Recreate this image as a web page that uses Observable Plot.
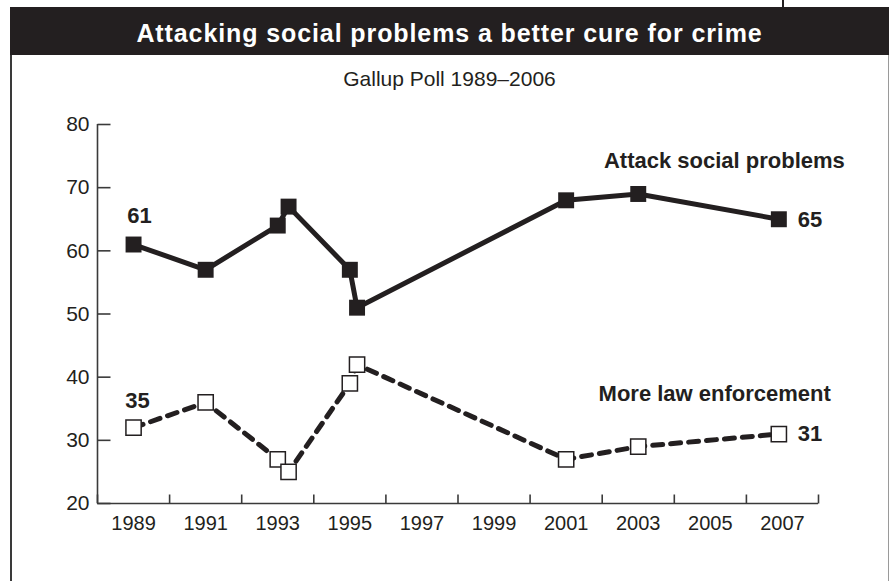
<!DOCTYPE html>
<html>
<head>
<meta charset="utf-8">
<script src="https://cdn.jsdelivr.net/npm/d3@7"></script>
<script src="https://cdn.jsdelivr.net/npm/@observablehq/plot@0.6"></script>
<style>
  html, body { margin: 0; padding: 0; background: #fff; }
  body { width: 889px; height: 581px; position: relative; overflow: hidden; font-family: "Liberation Sans", Arial, sans-serif; color: #231f20; }
  #topline { position: absolute; left: 782px; top: 0; width: 1.5px; height: 7px; background: #231f20; }
  #bar { position: absolute; left: 10px; top: 7px; width: 879px; height: 48px; background: #231f20; }
  #title { position: absolute; left: 10px; width: 879px; top: 21px; font-size: 25px; line-height: 25px; font-weight: bold; color: #fff; text-align: center; letter-spacing: 0.9px; white-space: nowrap; }
  #frame { position: absolute; left: 10px; top: 55px; width: 876px; height: 526px; border-left: 2px solid #3a3a3a; border-right: 1px solid #9a9a9a; }
  #subtitle { position: absolute; left: 10px; width: 879px; top: 68px; font-size: 21px; line-height: 21px; text-align: center; color: #231f20; }
  #chart { position: absolute; left: 0; top: 100px; }
</style>
</head>
<body>
<div id="topline"></div>
<div id="bar"></div>
<div id="title">Attacking social problems a better cure for crime</div>
<div id="frame"></div>
<div id="subtitle">Gallup Poll 1989–2006</div>
<div id="chart"></div>
<script>
// ---- data ----
const years = [1989, 1991, 1993, 1993.3, 1995, 1995.2, 2001, 2003, 2006.9];
const attackSocial = [61, 57, 64, 67, 57, 51, 68, 69, 65];
const lawEnforcement = [32, 36, 27, 25, 39, 42, 27, 29, 31];
const seriesNames = ["Attack social problems", "More law enforcement"];
const startLabels = ["61", "35"];
const endLabels = ["65", "31"];
const xTickYears = [1988, 1990, 1992, 1994, 1996, 1998, 2000, 2002, 2004, 2006, 2008];
const xLabelYears = [1989, 1991, 1993, 1995, 1997, 1999, 2001, 2003, 2005, 2007];
const yTicks = [20, 30, 40, 50, 60, 70, 80];

const ink = "#231f20";
const axisInk = "#3a3a3a";

const socialRows = years.map((x, i) => ({x, y: attackSocial[i]}));
const lawRows = years.map((x, i) => ({x, y: lawEnforcement[i]}));
const first = (rows) => rows.slice(0, 1);
const last = (rows) => rows.slice(-1);

// inward tick glyphs (pure stroke symbols)
const tickRight = {draw(ctx) { ctx.moveTo(0, 0); ctx.lineTo(13, 0); }};
const tickUp = {draw(ctx) { ctx.moveTo(0, 0); ctx.lineTo(0, -9); }};

const chart = Plot.plot({
  width: 889,
  height: 481,
  marginLeft: 97,
  marginRight: 71,
  marginTop: 24,
  marginBottom: 78,
  style: {fontFamily: "'Liberation Sans', Arial, sans-serif", color: ink, background: "transparent", overflow: "visible"},
  x: {domain: [1988, 2008], axis: null},
  y: {domain: [20, 80], axis: null},
  marks: [
    // axis lines
    Plot.ruleX([1988], {stroke: axisInk, strokeWidth: 1.6}),
    Plot.ruleY([20], {stroke: axisInk, strokeWidth: 1.6}),
    // inward ticks
    Plot.dot(yTicks, {y: d => d, frameAnchor: "left", symbol: tickRight, fill: "none", stroke: axisInk, strokeWidth: 1.6}),
    Plot.dot(xTickYears, {x: d => d, frameAnchor: "bottom", symbol: tickUp, fill: "none", stroke: axisInk, strokeWidth: 1.6}),
    // axis labels
    Plot.axisY({ticks: yTicks, tickSize: 0, tickPadding: 8, fontSize: 21, label: null, tickFormat: d => String(d)}),
    Plot.axisX({ticks: xLabelYears, tickSize: 0, tickPadding: 12, fontSize: 20, label: null, tickFormat: d => String(d)}),
    // lines
    Plot.line(socialRows, {x: "x", y: "y", stroke: ink, strokeWidth: 5, strokeLinejoin: "miter"}),
    Plot.line(lawRows, {x: "x", y: "y", stroke: ink, strokeWidth: 5, strokeDasharray: "10,8"}),
    // markers
    Plot.dot(socialRows, {x: "x", y: "y", symbol: "square", r: 9, fill: ink}),
    Plot.dot(lawRows, {x: "x", y: "y", symbol: "square", r: 8.6, fill: "white", stroke: ink, strokeWidth: 1.5}),
    // value labels
    Plot.text(first(socialRows), {x: "x", y: "y", text: () => startLabels[0], dx: 6, dy: -29, fontSize: 22, fontWeight: "bold", fill: ink}),
    Plot.text(first(lawRows), {x: "x", y: "y", text: () => startLabels[1], dx: 4, dy: -27, fontSize: 22, fontWeight: "bold", fill: ink}),
    Plot.text(last(socialRows), {x: "x", y: "y", text: () => endLabels[0], dx: 19, dy: 1, textAnchor: "start", fontSize: 22, fontWeight: "bold", fill: ink}),
    Plot.text(last(lawRows), {x: "x", y: "y", text: () => endLabels[1], dx: 19, dy: 0, textAnchor: "start", fontSize: 22, fontWeight: "bold", fill: ink}),
    // series labels
    Plot.text(last(socialRows), {x: "x", y: "y", text: () => seriesNames[0], dx: 66, dy: -58, textAnchor: "end", fontSize: 22, fontWeight: "bold", fill: ink}),
    Plot.text(last(lawRows), {x: "x", y: "y", text: () => seriesNames[1], dx: 52, dy: -40, textAnchor: "end", fontSize: 22, fontWeight: "bold", fill: ink})
  ]
});
document.getElementById("chart").appendChild(chart);
</script>
</body>
</html>
